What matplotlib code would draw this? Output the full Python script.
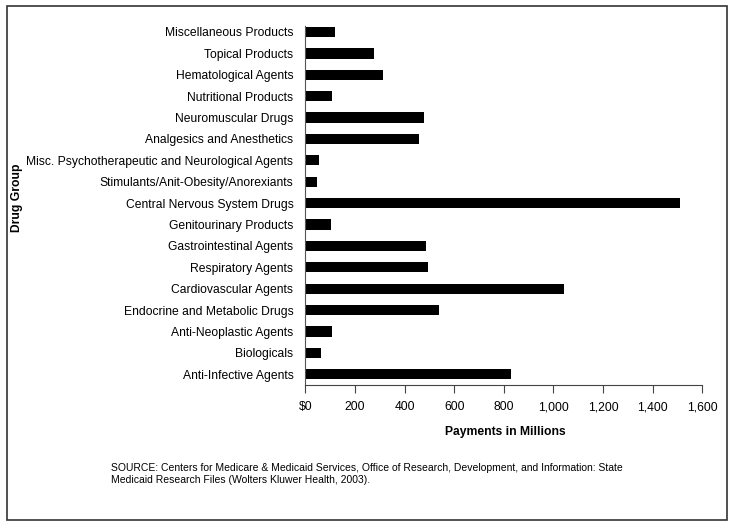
import numpy as np
import matplotlib
matplotlib.use("Agg")
import matplotlib.pyplot as plt
from matplotlib.patches import Rectangle

plt.rcParams["font.family"] = ["Liberation Sans", "DejaVu Sans"]

# Grupos de medicamentos (de abajo hacia arriba)
grupos = ["Anti-Infective Agents", "Biologicals", "Anti-Neoplastic Agents",
          "Endocrine and Metabolic Drugs", "Cardiovascular Agents",
          "Respiratory Agents", "Gastrointestinal Agents",
          "Genitourinary Products", "Central Nervous System Drugs",
          "Stimulants/Anit-Obesity/Anorexiants",
          "Misc. Psychotherapeutic and Neurological Agents",
          "Analgesics and Anesthetics", "Neuromuscular Drugs",
          "Nutritional Products", "Hematological Agents",
          "Topical Products", "Miscellaneous Products"]
# Pagos en millones
pagos = [830, 65, 109, 540, 1044, 493, 488, 102, 1512, 47, 54,
         460, 477, 109, 312, 278, 121]
# Etiquetas del eje x
xticks = [0, 200, 400, 600, 800, 1000, 1200, 1400, 1600]
xlabels = ["$0", "200", "400", "600", "800", "1,000", "1,200", "1,400", "1,600"]

W, H = 733, 527
fig = plt.figure(figsize=(W / 100, H / 100), dpi=100)
ax = fig.add_axes([305.3 / W, 1 - 384.5 / H, (702.3 - 305.3) / W, (384.5 - 26) / H])

y = np.arange(len(grupos))
ax.barh(y, pagos, height=0.48, color="black")
ax.set_xlim(0, 1600)
ax.set_ylim(-0.48, 16.28)
ax.set_xticks(xticks)
ax.set_xticklabels(xlabels, fontsize=8.7)
ax.set_yticks(y)
ax.set_yticklabels(grupos, fontsize=8.7)
ax.tick_params(axis="y", length=0, pad=8.5)
ax.tick_params(axis="x", length=6, width=0.8, pad=6, color="#444444")
for s in ["top", "right"]:
    ax.spines[s].set_visible(False)
ax.spines["left"].set_color("#555555")
ax.spines["bottom"].set_color("#444444")
ax.spines["left"].set_linewidth(0.8)
ax.spines["bottom"].set_linewidth(0.8)

fig.text(505 / W, 1 - 432 / H, "Payments in Millions", fontsize=8.7,
         fontweight="bold", ha="center", va="center")
fig.text(17 / W, 1 - 198 / H, "Drug Group", fontsize=8.7, fontweight="bold",
         rotation=90, ha="center", va="center")
fig.text(111 / W, 1 - 474 / H,
         "SOURCE: Centers for Medicare & Medicaid Services, Office of Research, Development, and Information: State\n"
         "Medicaid Research Files (Wolters Kluwer Health, 2003).",
         fontsize=7.5, ha="left", va="center", linespacing=1.35)

# Marco alrededor de la figura
fig.patches.append(Rectangle((7 / W, 1 - 520 / H), (727 - 7) / W, (520 - 6) / H,
                             transform=fig.transFigure, fill=False,
                             edgecolor="#333333", linewidth=1.2))

fig.savefig("out.png", dpi=100)
